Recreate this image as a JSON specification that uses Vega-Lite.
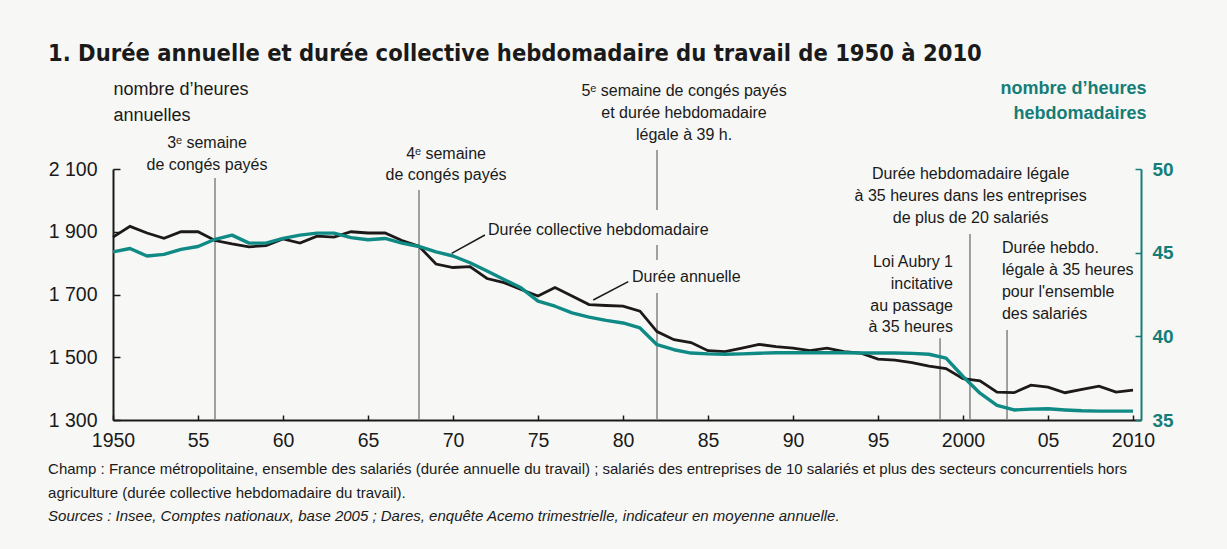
{
  "$schema": "https://vega.github.io/schema/vega-lite/v6.json",
  "width": 1028,
  "height": 251,
  "autosize": {"type": "none"},
  "padding": {"left": 113, "top": 169, "right": 86, "bottom": 129},
  "background": "#f7f7f5",
  "config": {"view": {"stroke": null}, "font": "Liberation Sans"},
  "title": {
    "text": "1. Durée annuelle et durée collective hebdomadaire du travail de 1950 à 2010",
    "font": "'Liberation Sans Narrow', 'DejaVu Sans Condensed', sans-serif",
    "fontWeight": "bold",
    "fontSize": 23.5,
    "color": "#1a1a1a",
    "anchor": "start",
    "frame": "group",
    "dx": -65,
    "offset": 14
  },
  "datasets": {
    "annual": [
      {"year": 1950, "hours": 1883}, {"year": 1951, "hours": 1917}, {"year": 1952, "hours": 1896},
      {"year": 1953, "hours": 1879}, {"year": 1954, "hours": 1900}, {"year": 1955, "hours": 1900},
      {"year": 1956, "hours": 1872}, {"year": 1957, "hours": 1861}, {"year": 1958, "hours": 1852},
      {"year": 1959, "hours": 1856}, {"year": 1960, "hours": 1877}, {"year": 1961, "hours": 1864},
      {"year": 1962, "hours": 1886}, {"year": 1963, "hours": 1883}, {"year": 1964, "hours": 1900},
      {"year": 1965, "hours": 1896}, {"year": 1966, "hours": 1896}, {"year": 1967, "hours": 1872},
      {"year": 1968, "hours": 1854}, {"year": 1969, "hours": 1797}, {"year": 1970, "hours": 1786},
      {"year": 1971, "hours": 1789}, {"year": 1972, "hours": 1751}, {"year": 1973, "hours": 1738},
      {"year": 1974, "hours": 1716}, {"year": 1975, "hours": 1695}, {"year": 1976, "hours": 1722},
      {"year": 1977, "hours": 1695}, {"year": 1978, "hours": 1668}, {"year": 1979, "hours": 1665},
      {"year": 1980, "hours": 1663}, {"year": 1981, "hours": 1647}, {"year": 1982, "hours": 1582},
      {"year": 1983, "hours": 1556}, {"year": 1984, "hours": 1547}, {"year": 1985, "hours": 1521},
      {"year": 1986, "hours": 1518}, {"year": 1987, "hours": 1529}, {"year": 1988, "hours": 1541},
      {"year": 1989, "hours": 1534}, {"year": 1990, "hours": 1529}, {"year": 1991, "hours": 1521},
      {"year": 1992, "hours": 1529}, {"year": 1993, "hours": 1518}, {"year": 1994, "hours": 1513},
      {"year": 1995, "hours": 1494}, {"year": 1996, "hours": 1491}, {"year": 1997, "hours": 1483},
      {"year": 1998, "hours": 1472}, {"year": 1999, "hours": 1464}, {"year": 2000, "hours": 1432},
      {"year": 2001, "hours": 1425}, {"year": 2002, "hours": 1389}, {"year": 2003, "hours": 1387},
      {"year": 2004, "hours": 1411}, {"year": 2005, "hours": 1405}, {"year": 2006, "hours": 1387},
      {"year": 2007, "hours": 1398}, {"year": 2008, "hours": 1408}, {"year": 2009, "hours": 1389},
      {"year": 2010, "hours": 1395}
    ],
    "weekly": [
      {"year": 1950, "weekly": 45.05}, {"year": 1951, "weekly": 45.25}, {"year": 1952, "weekly": 44.8},
      {"year": 1953, "weekly": 44.9}, {"year": 1954, "weekly": 45.2}, {"year": 1955, "weekly": 45.37},
      {"year": 1956, "weekly": 45.8}, {"year": 1957, "weekly": 46.05}, {"year": 1958, "weekly": 45.57},
      {"year": 1959, "weekly": 45.57}, {"year": 1960, "weekly": 45.85}, {"year": 1961, "weekly": 46.05},
      {"year": 1962, "weekly": 46.17}, {"year": 1963, "weekly": 46.17}, {"year": 1964, "weekly": 45.9},
      {"year": 1965, "weekly": 45.77}, {"year": 1966, "weekly": 45.85}, {"year": 1967, "weekly": 45.57},
      {"year": 1968, "weekly": 45.37}, {"year": 1969, "weekly": 45.05}, {"year": 1970, "weekly": 44.8},
      {"year": 1971, "weekly": 44.4}, {"year": 1972, "weekly": 43.9}, {"year": 1973, "weekly": 43.4},
      {"year": 1974, "weekly": 42.9}, {"year": 1975, "weekly": 42.1}, {"year": 1976, "weekly": 41.8},
      {"year": 1977, "weekly": 41.4}, {"year": 1978, "weekly": 41.15}, {"year": 1979, "weekly": 40.95},
      {"year": 1980, "weekly": 40.8}, {"year": 1981, "weekly": 40.5}, {"year": 1982, "weekly": 39.5},
      {"year": 1983, "weekly": 39.2}, {"year": 1984, "weekly": 39.0}, {"year": 1985, "weekly": 38.95},
      {"year": 1986, "weekly": 38.93}, {"year": 1987, "weekly": 38.95}, {"year": 1988, "weekly": 38.99},
      {"year": 1989, "weekly": 39.02}, {"year": 1990, "weekly": 39.02}, {"year": 1991, "weekly": 39.02},
      {"year": 1992, "weekly": 39.02}, {"year": 1993, "weekly": 39.02}, {"year": 1994, "weekly": 39.0},
      {"year": 1995, "weekly": 39.0}, {"year": 1996, "weekly": 39.0}, {"year": 1997, "weekly": 38.98},
      {"year": 1998, "weekly": 38.93}, {"year": 1999, "weekly": 38.7}, {"year": 2000, "weekly": 37.6},
      {"year": 2001, "weekly": 36.6}, {"year": 2002, "weekly": 35.87}, {"year": 2003, "weekly": 35.6},
      {"year": 2004, "weekly": 35.65}, {"year": 2005, "weekly": 35.67}, {"year": 2006, "weekly": 35.6},
      {"year": 2007, "weekly": 35.55}, {"year": 2008, "weekly": 35.53}, {"year": 2009, "weekly": 35.53},
      {"year": 2010, "weekly": 35.53}
    ],
    "vlines": [
      {"year": 1956.0, "hours": 2071.3, "hours2": 1300},
      {"year": 1968.0, "hours": 2033.0, "hours2": 1300},
      {"year": 1982.0, "hours": 2160.5, "hours2": 1969.3},
      {"year": 1982.0, "hours": 1857.8, "hours2": 1810.0},
      {"year": 1982.0, "hours": 1704.8, "hours2": 1300},
      {"year": 1998.65, "hours": 1560.4, "hours2": 1300},
      {"year": 2000.41, "hours": 1892.8, "hours2": 1300},
      {"year": 2002.59, "hours": 1586.8, "hours2": 1300}
    ],
    "leaders": [
      {"year": 1969.92, "year2": 1971.88, "hours": 1831.3, "hours2": 1889.7},
      {"year": 1978.25, "year2": 1980.31, "hours": 1682.5, "hours2": 1740.8}
    ],
    "notes": [
      {"kind": "center", "year": 1955.53, "hours": 2166.9, "label": "3ᵉ semaine"},
      {"kind": "center", "year": 1955.53, "hours": 2096.8, "label": "de congés payés"},
      {"kind": "center", "year": 1969.59, "hours": 2131.9, "label": "4ᵉ semaine"},
      {"kind": "center", "year": 1969.59, "hours": 2063.4, "label": "de congés payés"},
      {"kind": "center", "year": 1983.59, "hours": 2332.7, "label": "5ᵉ semaine de congés payés"},
      {"kind": "center", "year": 1983.59, "hours": 2262.6, "label": "et durée hebdomadaire"},
      {"kind": "center", "year": 1983.59, "hours": 2192.4, "label": "légale à 39 h."},
      {"kind": "center", "year": 2000.45, "hours": 2068.1, "label": "Durée hebdomadaire légale"},
      {"kind": "center", "year": 2000.45, "hours": 1998.0, "label": "à 35 heures dans les entreprises"},
      {"kind": "center", "year": 2000.45, "hours": 1927.9, "label": "de plus de 20 salariés"},
      {"kind": "right", "year": 1999.41, "hours": 1787.7, "label": "Loi Aubry 1"},
      {"kind": "right", "year": 1999.41, "hours": 1717.5, "label": "incitative"},
      {"kind": "right", "year": 1999.41, "hours": 1649.0, "label": "au passage"},
      {"kind": "right", "year": 1999.41, "hours": 1580.5, "label": "à 35 heures"},
      {"kind": "left", "year": 2002.29, "hours": 1832.3, "label": "Durée hebdo."},
      {"kind": "left", "year": 2002.29, "hours": 1762.2, "label": "légale à 35 heures"},
      {"kind": "left", "year": 2002.29, "hours": 1692.0, "label": "pour l'ensemble"},
      {"kind": "left", "year": 2002.29, "hours": 1621.9, "label": "des salariés"},
      {"kind": "left", "year": 1972.06, "hours": 1889.7, "label": "Durée collective hebdomadaire"},
      {"kind": "left", "year": 1980.53, "hours": 1739.85, "label": "Durée annuelle"},
      {"kind": "foot", "year": 1946.18, "hours": 1127.9, "label": "Champ : France métropolitaine, ensemble des salariés (durée annuelle du travail) ; salariés des entreprises de 10 salariés et plus des secteurs concurrentiels hors"},
      {"kind": "foot", "year": 1946.18, "hours": 1051.4, "label": "agriculture (durée collective hebdomadaire du travail)."},
      {"kind": "source", "year": 1946.18, "hours": 978.1, "label": "Sources : Insee, Comptes nationaux, base 2005 ; Dares, enquête Acemo trimestrielle, indicateur en moyenne annuelle."}
    ]
  },
  "layer": [
    {
      "layer": [
        {
          "data": {"name": "vlines"},
          "mark": {"type": "rule", "color": "#8a8a8a", "strokeWidth": 1.6},
          "encoding": {
            "x": {"field": "year", "type": "quantitative", "scale": {"domain": [1950, 2010.47], "nice": false, "zero": false}},
            "y": {"field": "hours", "type": "quantitative", "scale": {"domain": [1300, 2100], "nice": false, "zero": false}},
            "y2": {"field": "hours2"}
          }
        },
        {
          "data": {"name": "leaders"},
          "mark": {"type": "rule", "color": "#1a1a1a", "strokeWidth": 1.5},
          "encoding": {
            "x": {"field": "year", "type": "quantitative"},
            "x2": {"field": "year2"},
            "y": {"field": "hours", "type": "quantitative"},
            "y2": {"field": "hours2"}
          }
        },
        {
          "data": {"name": "annual"},
          "mark": {"type": "line", "color": "#1c1918", "strokeWidth": 2.8, "strokeJoin": "miter"},
          "encoding": {
            "x": {
              "field": "year", "type": "quantitative",
              "scale": {"domain": [1950, 2010.47], "nice": false, "zero": false},
              "axis": {
                "title": null,
                "values": [1950, 1955, 1960, 1965, 1970, 1975, 1980, 1985, 1990, 1995, 2000, 2005, 2010],
                "labelExpr": "(datum.value == 1950 || datum.value == 2000 || datum.value == 2010) ? '' + datum.value : substring('' + datum.value, 2)",
                "labelFont": "Liberation Sans",
                "labelFontSize": 19.5,
                "labelColor": "#1a1a1a",
                "labelPadding": 16,
                "labelFlush": false,
                "labelOverlap": false,
                "tickSize": -5,
                "tickWidth": 1.5,
                "tickColor": "#1a1a1a",
                "domainColor": "#1a1a1a",
                "domainWidth": 2,
                "grid": false
              }
            },
            "y": {
              "field": "hours", "type": "quantitative",
              "scale": {"domain": [1300, 2100], "nice": false, "zero": false},
              "axis": {
                "orient": "left",
                "values": [1300, 1500, 1700, 1900, 2100],
                "labelExpr": "replace(format(datum.value, ','), ',', ' ')",
                "labelFont": "Liberation Sans",
                "labelFontSize": 19.5,
                "labelColor": "#1a1a1a",
                "labelPadding": 23,
                "labelFlush": false,
                "labelOverlap": false,
                "tickSize": -7,
                "tickWidth": 1.5,
                "tickColor": "#1a1a1a",
                "domainColor": "#1a1a1a",
                "domainWidth": 2,
                "grid": false,
                "title": ["nombre d’heures", "annuelles"],
                "titleFont": "Liberation Sans",
                "titleFontSize": 18,
                "titleFontWeight": "normal",
                "titleColor": "#1a1a1a",
                "titleAngle": 0,
                "titleAlign": "left",
                "titleBaseline": "alphabetic",
                "titleX": 0,
                "titleY": -75,
                "titleLineHeight": 26
              }
            }
          }
        },
        {
          "data": {"name": "notes"},
          "transform": [{"filter": "datum.kind == 'center'"}],
          "mark": {"type": "text", "align": "center", "baseline": "alphabetic", "fontSize": 16, "font": "Liberation Sans", "color": "#1a1a1a"},
          "encoding": {
            "x": {"field": "year", "type": "quantitative"},
            "y": {"field": "hours", "type": "quantitative"},
            "text": {"field": "label"}
          }
        },
        {
          "data": {"name": "notes"},
          "transform": [{"filter": "datum.kind == 'right'"}],
          "mark": {"type": "text", "align": "right", "baseline": "alphabetic", "fontSize": 16, "font": "Liberation Sans", "color": "#1a1a1a"},
          "encoding": {
            "x": {"field": "year", "type": "quantitative"},
            "y": {"field": "hours", "type": "quantitative"},
            "text": {"field": "label"}
          }
        },
        {
          "data": {"name": "notes"},
          "transform": [{"filter": "datum.kind == 'left'"}],
          "mark": {"type": "text", "align": "left", "baseline": "alphabetic", "fontSize": 16, "font": "Liberation Sans", "color": "#1a1a1a"},
          "encoding": {
            "x": {"field": "year", "type": "quantitative"},
            "y": {"field": "hours", "type": "quantitative"},
            "text": {"field": "label"}
          }
        },
        {
          "data": {"name": "notes"},
          "transform": [{"filter": "datum.kind == 'foot'"}],
          "mark": {"type": "text", "align": "left", "baseline": "alphabetic", "fontSize": 15, "font": "Liberation Sans", "color": "#1a1a1a"},
          "encoding": {
            "x": {"field": "year", "type": "quantitative"},
            "y": {"field": "hours", "type": "quantitative"},
            "text": {"field": "label"}
          }
        },
        {
          "data": {"name": "notes"},
          "transform": [{"filter": "datum.kind == 'source'"}],
          "mark": {"type": "text", "align": "left", "baseline": "alphabetic", "fontSize": 15, "fontStyle": "italic", "font": "Liberation Sans", "color": "#1a1a1a"},
          "encoding": {
            "x": {"field": "year", "type": "quantitative"},
            "y": {"field": "hours", "type": "quantitative"},
            "text": {"field": "label"}
          }
        }
      ]
    },
    {
      "data": {"name": "weekly"},
      "mark": {"type": "line", "color": "#0f8a84", "strokeWidth": 3.4, "strokeJoin": "round"},
      "encoding": {
        "x": {"field": "year", "type": "quantitative"},
        "y": {
          "field": "weekly", "type": "quantitative",
          "scale": {"domain": [35, 50], "nice": false, "zero": false},
          "axis": {
            "orient": "right",
            "values": [35, 40, 45, 50],
            "labelFont": "Liberation Sans",
            "labelFontSize": 19,
            "labelFontWeight": "bold",
            "labelColor": "#147d78",
            "labelPadding": 17,
            "labelFlush": false,
            "labelOverlap": false,
            "tickSize": -6,
            "tickWidth": 1.5,
            "tickColor": "#147d78",
            "domainColor": "#147d78",
            "domainWidth": 2,
            "grid": false,
            "title": ["nombre d’heures", "hebdomadaires"],
            "titleFont": "Liberation Sans",
            "titleFontSize": 18,
            "titleFontWeight": "bold",
            "titleColor": "#147d78",
            "titleAngle": 0,
            "titleAlign": "right",
            "titleBaseline": "alphabetic",
            "titleX": 5,
            "titleY": -76,
            "titleLineHeight": 25
          }
        }
      }
    }
  ],
  "resolve": {"scale": {"y": "independent"}, "axis": {"y": "independent"}}
}
